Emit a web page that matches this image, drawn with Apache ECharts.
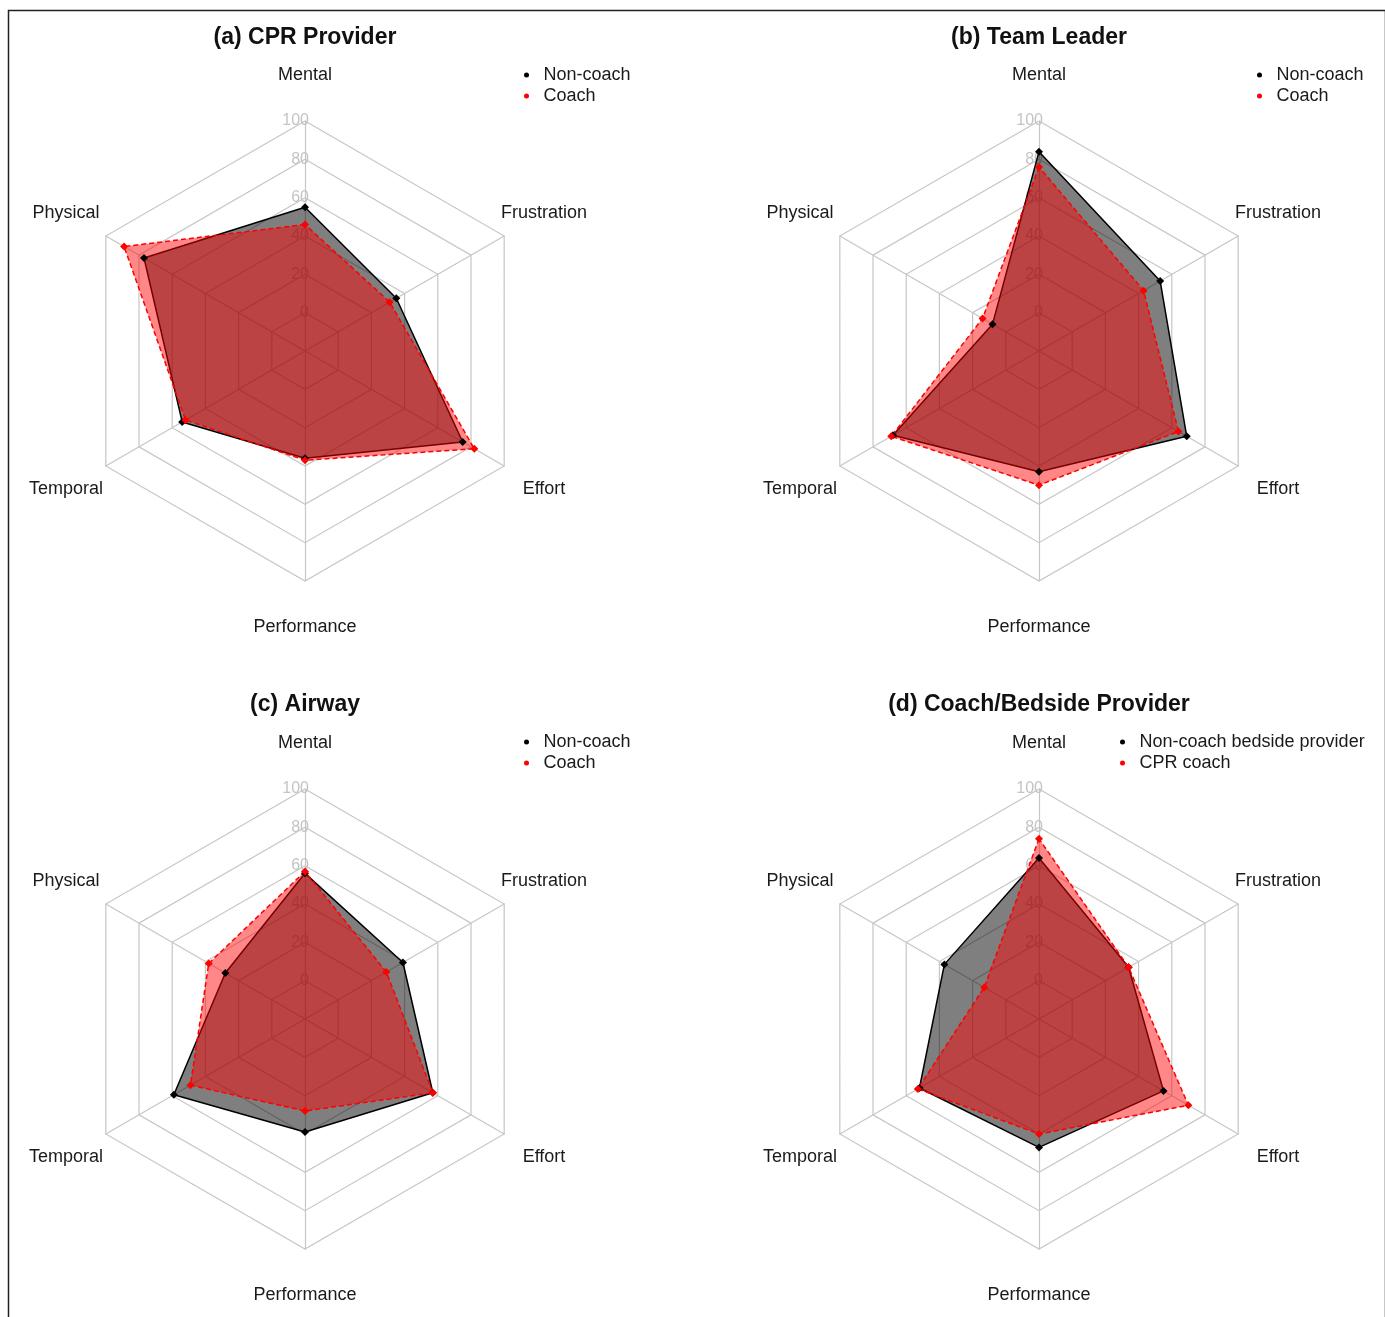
<!DOCTYPE html>
<html><head><meta charset="utf-8">
<script src="https://cdn.jsdelivr.net/npm/echarts@6/dist/echarts.min.js"></script>
<style>html,body{margin:0;padding:0;background:#fff}#c{width:1385px;height:1317px}</style>
</head><body><div id="c"></div>
<script>
// Axes listed clockwise starting at the top, as in the reference
const axes = ['Mental', 'Frustration', 'Effort', 'Performance', 'Temporal', 'Physical'];
const tickLabels = [0, 20, 40, 60, 80, 100];
const titles = ['(a) CPR Provider', '(b) Team Leader', '(c) Airway', '(d) Coach/Bedside Provider'];
const groupNames = [
  ['Non-coach', 'Coach'],
  ['Non-coach', 'Coach'],
  ['Non-coach', 'Coach'],
  ['Non-coach bedside provider', 'CPR coach']
];
// values in the axes order above
const aNonCoach = [55, 35, 75, 36, 54, 77];
const aCoach    = [46, 31, 82, 37, 52, 89];
const bNonCoach = [84, 53, 69, 43, 68, 8];
const bCoach    = [76, 43, 64, 50, 69, 14];
const cNonCoach = [56, 39, 57, 39, 59, 28];
const cCoach    = [57, 29, 57, 28, 49, 38];
const dNonCoach = [64, 34, 55, 47, 52, 37];
const dCoach    = [74, 34, 70, 40, 53, 13];

const panels = [[aNonCoach, aCoach], [bNonCoach, bCoach], [cNonCoach, cCoach], [dNonCoach, dCoach]];
// ECharts places indicators counter-clockwise; reorder to get clockwise layout
const order = [0, 5, 4, 3, 2, 1];

const centers = [[305, 351], [1039, 351], [305, 1019], [1039, 1019]];
const titleTops = [26, 26, 693, 693];
const legendPos = [[524, 66], [1257, 66], [524, 733], [1120, 733]];
const FONT = 'Liberation Sans, Arial, sans-serif';
const GRID = '#c6c6c6';

const chart = echarts.init(document.getElementById('c'), null, {renderer: 'canvas'});

const option = {
  backgroundColor: '#fff',
  animation: false,
  graphic: [{
    type: 'rect', left: 6, top: 8,
    shape: {x: 0, y: 0, width: 1377, height: 1340},
    style: {fill: 'none', stroke: '#222', lineWidth: 1.5}, z: 100
  }],
  title: titles.map((t, i) => ({
    text: t, left: centers[i][0], top: titleTops[i], textAlign: 'center', padding: 0,
    textStyle: {fontSize: 23, fontWeight: 'bold', color: '#111', fontFamily: FONT}
  })),
  legend: legendPos.map((lp, i) => ({
    left: lp[0], top: lp[1], orient: 'vertical', icon: 'circle',
    itemWidth: 24, itemHeight: 5, itemGap: 3, padding: 0, selectedMode: false,
    data: [
      {name: groupNames[i][0], itemStyle: {color: '#000'}},
      {name: groupNames[i][1], itemStyle: {color: '#ff0000'}}
    ],
    textStyle: {fontSize: 18, color: '#1a1a1a', fontFamily: FONT}
  })),
  radar: centers.map((c) => ({
    center: c, radius: 230, startAngle: 90, shape: 'polygon', splitNumber: 6,
    nameGap: 46,
    axisName: {color: '#1a1a1a', fontSize: 18, fontFamily: FONT, align: 'center', verticalAlign: 'middle', padding: [6, 0, 0, 0]},
    indicator: order.map((k, j) => {
      const ind = {name: axes[k], min: -20, max: 100};
      if (j === 0) {
        ind.axisLabel = {
          show: true, color: '#c4c4c4', fontSize: 16, fontFamily: FONT, margin: -4,
          formatter: (v) => tickLabels.indexOf(v) >= 0 ? String(v) : ''
        };
      }
      return ind;
    }),
    splitLine: {lineStyle: {color: GRID, width: 1.2}},
    splitArea: {show: false},
    axisLine: {lineStyle: {color: GRID, width: 1.2}},
    axisTick: {show: false},
    axisLabel: {show: false}
  })),
  series: panels.map((p, i) => ({
    type: 'radar', radarIndex: i, symbol: 'diamond', symbolSize: 8,
    data: [
      {
        name: groupNames[i][0], value: order.map(k => p[0][k]),
        itemStyle: {color: '#000'},
        lineStyle: {color: '#000', width: 1.5, type: 'solid'},
        areaStyle: {color: 'rgba(0,0,0,0.5)', opacity: 1}
      },
      {
        name: groupNames[i][1], value: order.map(k => p[1][k]),
        itemStyle: {color: '#ff0000'},
        lineStyle: {color: '#ff0000', width: 1.5, type: [5, 3]},
        areaStyle: {color: 'rgba(255,0,0,0.47)', opacity: 1}
      }
    ]
  }))
};
chart.setOption(option);
</script>
</body></html>
